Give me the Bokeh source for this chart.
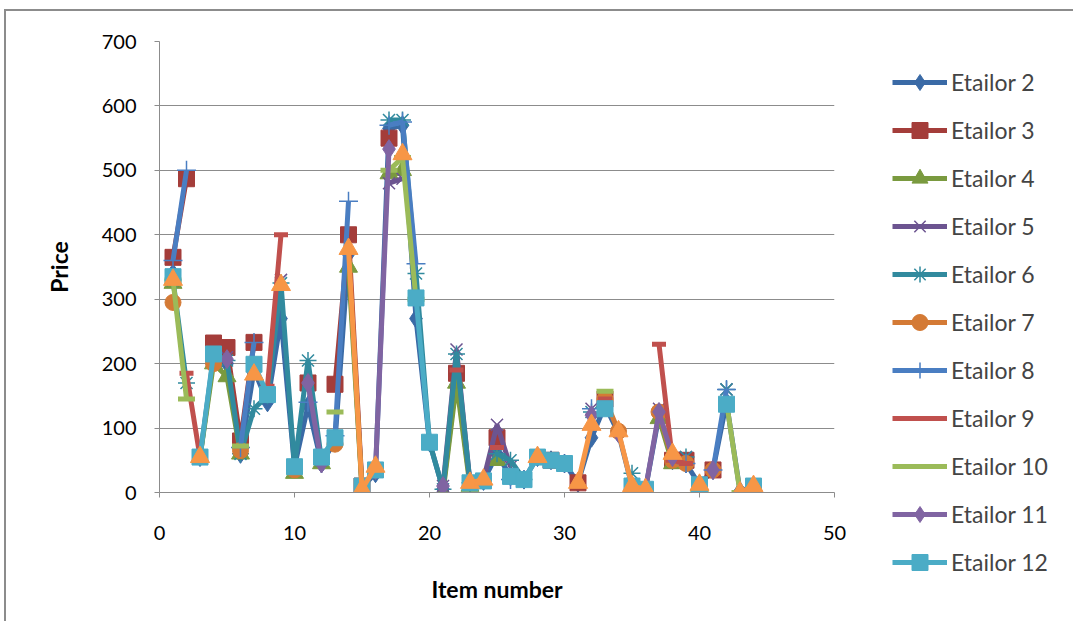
import numpy as np
from bokeh.plotting import figure
from bokeh.models import Legend, LegendItem, Range1d, FixedTicker
from bokeh.embed import file_html
from bokeh.resources import INLINE

N = None
items = list(range(1, 45))

etailor_2 = [340, N, 55, 210, 200, 60, 190, 140, 270, 40, 135, 45, 80, 370, 8, 30, 565, 570, 270, 78, 5, 180, 15, 18, 60, 25, 20, 55, 50, 45, 15, 85, 135, 92, 10, 5, 120, 50, 45, 12, 35, 140, 2, 10]
etailor_3 = [365, 487, N, 232, 225, 80, 233, N, N, N, 170, N, 168, 400, 10, N, 550, N, N, N, N, 185, N, N, 85, N, N, N, 50, N, 15, N, 145, N, N, N, N, 50, 50, N, 35, N, N, N]
etailor_4 = [325, N, 55, 200, 180, 60, N, N, N, 30, N, 45, N, 350, 5, N, 495, 500, N, N, 0, 170, 10, N, 50, N, N, N, N, N, N, N, N, N, N, N, 115, 45, N, 10, N, N, 0, N]
etailor_5 = [330, N, N, N, 210, N, N, N, 330, N, N, N, N, N, N, N, 480, 487, N, N, 10, 222, 15, 20, 105, 40, N, N, N, N, N, 130, N, N, N, N, 130, N, 55, N, N, 160, N, N]
etailor_6 = [330, 170, N, N, 205, 60, 130, 150, 325, 40, 205, 50, N, N, N, N, 578, 578, 340, 78, 5, 215, 15, N, 60, 50, 20, N, N, N, N, 125, N, N, 30, N, N, N, 55, N, N, 160, N, N]
etailor_7 = [295, N, N, 200, N, 65, N, N, N, 35, N, N, 75, N, N, N, N, N, N, N, N, N, N, N, N, N, N, N, N, N, N, N, 145, 95, N, N, 125, 50, 45, N, 35, N, N, N]
etailor_8 = [360, 500, N, N, N, 70, 233, N, N, N, 140, N, 88, 452, N, N, 570, 575, 355, N, N, N, N, N, N, 20, N, N, N, N, N, 130, N, N, N, N, N, N, 45, N, 35, 160, N, N]
etailor_9 = [N, 185, 55, N, N, N, N, 165, 400, N, N, N, N, N, N, N, N, N, N, N, N, 190, N, N, 70, N, N, N, N, N, N, N, 145, N, N, N, 230, 50, 45, N, N, N, N, N]
etailor_10 = [330, 145, N, N, N, 72, N, N, N, N, N, N, 125, N, N, N, 500, 520, 300, N, N, N, N, N, N, N, N, N, N, N, N, N, 157, N, N, N, N, N, N, N, N, 140, 0, N]
etailor_11 = [N, N, N, N, 207, N, N, N, N, N, 170, 45, N, N, N, 35, 533, N, N, N, 10, N, N, N, N, N, N, N, N, N, N, 120, N, 92, N, 5, 125, 55, N, N, 35, N, 0, N]
etailor_12 = [335, N, 55, 215, N, N, 199, 152, N, 40, N, 55, 85, N, 10, 35, N, N, 302, 78, N, N, 15, 18, N, 25, 20, 55, 50, 45, N, N, 130, N, 10, 5, N, N, N, 12, N, 137, N, 10]
etailor_13 = [330, N, 55, N, N, N, 183, N, 322, N, N, N, N, 378, 5, 40, N, 525, N, N, N, N, 15, 20, N, N, N, 55, N, N, 15, 105, N, 95, 10, 5, N, 60, N, 12, N, N, 0, 10]

series = [
    ("Etailor 2", etailor_2, "#3A6AA6", "diamond", 19, True),
    ("Etailor 3", etailor_3, "#A43D3A", "square", 16, True),
    ("Etailor 4", etailor_4, "#7A9A3F", "triangle", 18, True),
    ("Etailor 5", etailor_5, "#6C5490", "x", 17, True),
    ("Etailor 6", etailor_6, "#318A9E", "asterisk", 17, True),
    ("Etailor 7", etailor_7, "#D47A35", "circle", 16, True),
    ("Etailor 8", etailor_8, "#4A7EC2", "cross", 19, True),
    ("Etailor 9", etailor_9, "#C0504D", "dash", 14, True),
    ("Etailor 10", etailor_10, "#9BBB59", "dash", 17, True),
    ("Etailor 11", etailor_11, "#8064A2", "diamond", 19, True),
    ("Etailor 12", etailor_12, "#4BACC6", "square", 16, True),
    ("Etailor 13", etailor_13, "#F79646", "triangle", 19, False),
]

FONT = "Lato"
# whole chart sits at (5, 10) inside the window, framed by a grey border
p = figure(frame_width=675, frame_height=451, output_backend="svg", toolbar_location=None,
           x_range=Range1d(0, 50), y_range=Range1d(0, 700),
           min_border_left=153, min_border_right=236, min_border_top=30, min_border_bottom=129)
p.styles = {"margin-left": "4px", "margin-top": "9px",
            "border-left": "2px solid #8C8C8C", "border-top": "2px solid #8C8C8C"}
p.outline_line_color = None
p.background_fill_color = "white"
p.border_fill_color = "white"
p.xgrid.grid_line_color = None
p.ygrid.grid_line_color = "#8C8C8C"
p.ygrid.grid_line_width = 1
p.xaxis.ticker = FixedTicker(ticks=[0, 10, 20, 30, 40, 50])
p.yaxis.ticker = FixedTicker(ticks=[0, 100, 200, 300, 400, 500, 600, 700])
for ax in (p.xaxis[0], p.yaxis[0]):
    ax.axis_line_color = "#8C8C8C"
    ax.major_tick_line_color = "#8C8C8C"
    ax.major_tick_out = 5
    ax.major_tick_in = 0
    ax.minor_tick_line_color = None
    ax.major_label_text_font = FONT
    ax.major_label_text_font_size = "20px"
    ax.major_label_text_color = "#000000"
    ax.axis_label_text_font = FONT
    ax.axis_label_text_font_style = "bold"
    ax.axis_label_text_font_size = "23px"
    ax.axis_label_text_color = "#000000"
p.xaxis.axis_label = "Item number"
p.yaxis.axis_label = "Price"
p.xaxis.major_label_standoff = 28
p.xaxis.axis_label_standoff = 32
p.yaxis.major_label_standoff = 18
p.yaxis.axis_label_standoff = 26

x = np.array(items, dtype=float)
legend_items = []
for name, vals, color, marker, size, show in series:
    y = np.array([np.nan if v is None else v for v in vals], dtype=float)
    ln = p.line(x, y, line_color=color, line_width=5)
    if marker == "dash":
        sc = p.scatter(x, y, marker="dash", size=size, line_color=color, line_width=5)
    elif marker in ("x", "asterisk", "cross"):
        sc = p.scatter(x, y, marker=marker, size=size, line_color=color, line_width=1.5)
    else:
        sc = p.scatter(x, y, marker=marker, size=size, fill_color=color, line_color=color)
    if show:
        legend_items.append(LegendItem(label=name, renderers=[ln, sc]))

legend = Legend(items=legend_items, location=(58, -90), glyph_width=55, glyph_height=40,
                label_height=40, spacing=8, label_text_font=FONT, label_text_font_size="23px",
                label_standoff=4, padding=0, margin=0, border_line_color=None,
                background_fill_alpha=0)
p.add_layout(legend, "right")

open("out.html", "w").write(file_html(p, INLINE))
